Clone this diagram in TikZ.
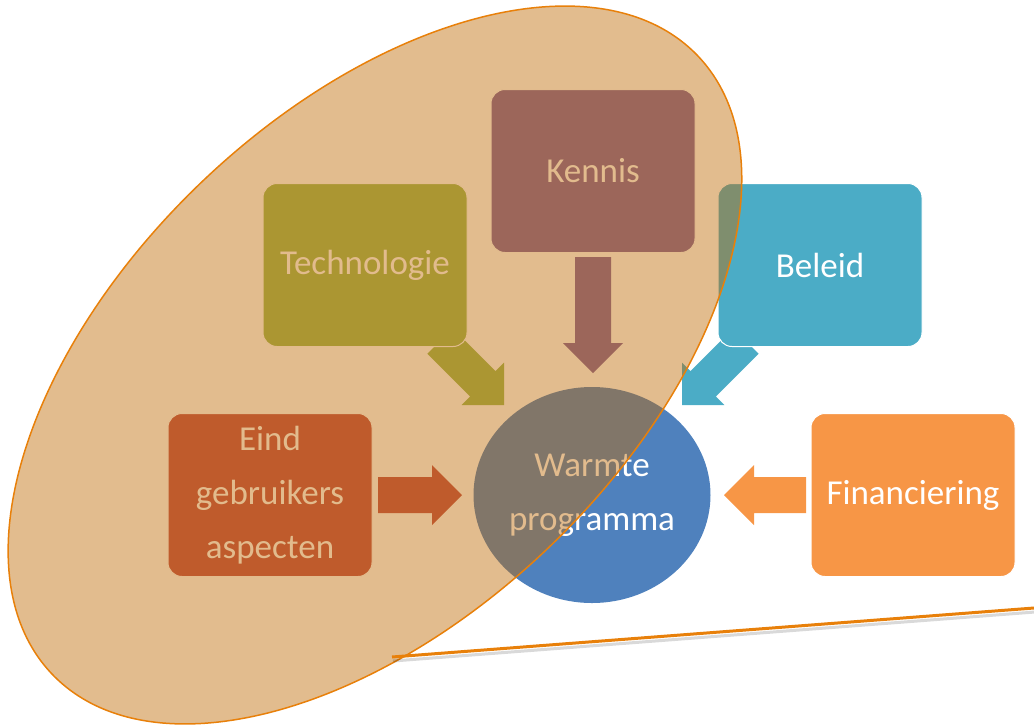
\documentclass[tikz,border=0pt]{standalone}
\usepackage{fontspec}
\setmainfont{Carlito}
\usetikzlibrary{calc,shapes.geometric}
\definecolor{cgreen}{HTML}{9BBB59}
\definecolor{cpurple}{HTML}{8064A2}
\definecolor{caqua}{HTML}{4BACC6}
\definecolor{cred}{HTML}{C0504D}
\definecolor{corange}{HTML}{F79646}
\definecolor{cblue}{HTML}{4F81BD}
\definecolor{overlaytan}{RGB}{191,106,4}
\definecolor{edgeorange}{RGB}{232,128,10}
\newcommand\blockarrow[3]{%
  \coordinate (hb) at ($(#2)!30pt!(#1)$);
  \fill[#3] ($(#1)!18pt!90:(#2)$) -- ($(hb)!18pt!90:(#2)$) -- ($(hb)!30pt!90:(#2)$) -- (#2)
    -- ($(hb)!30pt!-90:(#2)$) -- ($(hb)!18pt!-90:(#2)$) -- ($(#1)!18pt!-90:(#2)$) -- cycle;}
\tikzset{
  box/.style={rounded corners=14pt, minimum width=204pt, minimum height=163pt,
    text=white, draw=white, line width=1pt, inner sep=2pt, align=center,
    font=\fontsize{35}{54}\selectfont},
  hub/.style={ellipse, fill=cblue, minimum width=237pt, minimum height=216pt, inner sep=0pt,
    text=white, align=center, font=\fontsize{35}{54}\selectfont},
}
\begin{document}
\begin{tikzpicture}[x=1pt,y=-1pt]
\useasboundingbox (0,0) rectangle (1034,724);
% arrow coordinates
\coordinate (k1) at (593,257); \coordinate (k2) at (593,373);
\coordinate (t1) at (440,341); \coordinate (t2) at (504,405);
\coordinate (b1) at (746,341); \coordinate (b2) at (682,405);
\coordinate (e1) at (378,495); \coordinate (e2) at (462,495);
\coordinate (f1) at (806,495); \coordinate (f2) at (724,495);
\blockarrow{k1}{k2}{cpurple}
\blockarrow{t1}{t2}{cgreen}
\blockarrow{b1}{b2}{caqua}
\blockarrow{e1}{e2}{cred}
\blockarrow{f1}{f2}{corange}
% boxes
\node[box, fill=cpurple] (kennis) at (593,171) {Kennis};
\node[box, fill=cgreen] (tech) at (365,265) {Technologie};
\node[box, fill=caqua] (beleid) at (820,265) {Beleid};
\node[box, fill=cred] (eind) at (270,495) {Eind\\gebruikers\\aspecten};
\node[box, fill=corange] (fin) at (913,495) {Financiering};
\node[hub] (warmte) at (592,495) {Warmte\\programma};
% overlay ellipse
\coordinate (ec) at (375,365);
\path[fill=overlaytan, fill opacity=0.45, draw=edgeorange, line width=1.5pt,
  rotate around={43.8:(ec)}] (ec) ellipse [x radius=447, y radius=252];
% line
\coordinate (l1) at (392,657); \coordinate (l2) at (1034,608);
\draw[black, opacity=0.15, line width=3pt] ($(l1)+(1,4)$) -- ($(l2)+(1,4)$);
\draw[edgeorange, line width=3pt] (l1) -- (l2);
\end{tikzpicture}
\end{document}
